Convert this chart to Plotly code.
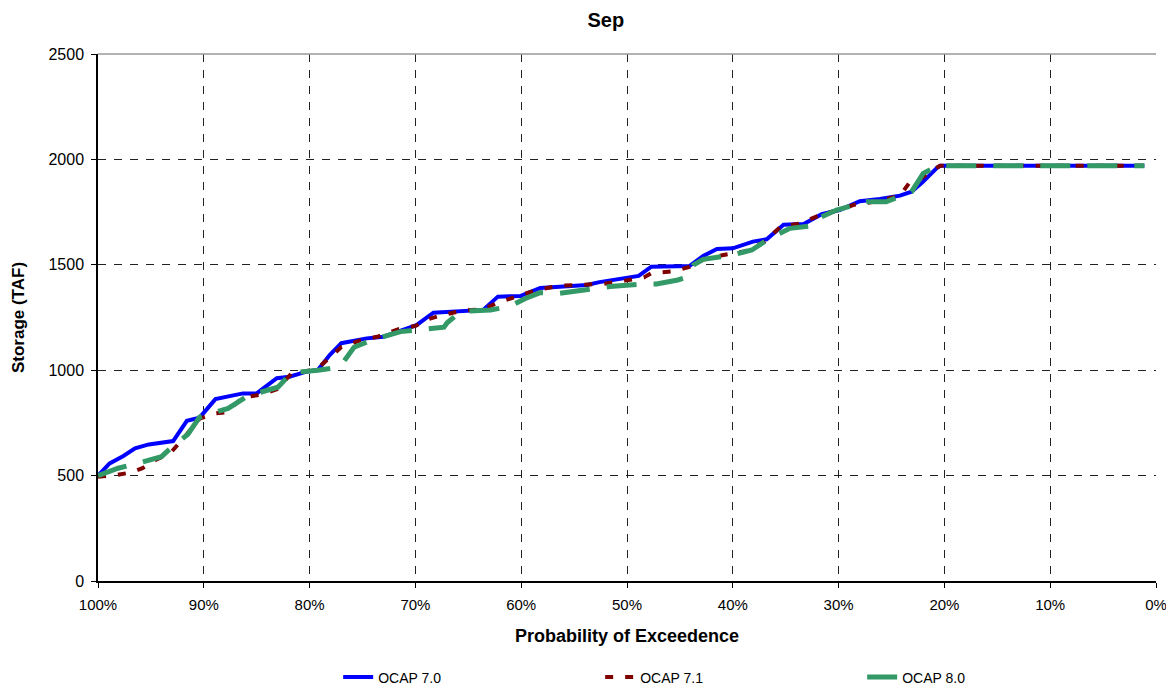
import plotly.graph_objects as go

# Probability of exceedence (%) and storage (TAF)
p_70 = [100.0, 98.9, 97.6, 96.5, 95.2, 92.9, 91.6, 90.4, 88.9, 86.3, 85.0, 83.1, 81.9, 80.3, 79.2,
        78.1, 77.0, 74.6, 73.0, 70.5, 69.9, 68.3, 65.8, 63.6, 62.2, 60.1, 58.2, 53.8, 52.6, 50.7,
        48.9, 47.7, 44.1, 42.8, 41.5, 40.0, 38.1, 36.8, 35.2, 33.3, 31.6, 29.9, 28.0, 26.1, 24.2,
        23.1, 22.1, 20.7, 20.4, 1.1]
s_70 = [500, 558, 593, 629, 648, 664, 760, 775, 863, 890, 890, 962, 969, 993, 1002,
        1072, 1128, 1151, 1159, 1207, 1214, 1273, 1282, 1286, 1349, 1352, 1390, 1404, 1418, 1431,
        1447, 1491, 1494, 1542, 1575, 1578, 1610, 1621, 1690, 1694, 1740, 1760, 1802, 1812, 1828,
        1847, 1890, 1960, 1970, 1970]

p_71 = [100.0, 98.2, 96.9, 95.8, 94.4, 93.1, 91.7, 90.4, 88.9, 87.9, 86.3, 84.5, 83.1, 81.7, 80.3,
        79.2, 78.1, 77.0, 75.3, 73.5, 71.6, 70.0, 68.9, 67.6, 65.6, 63.6, 62.2, 60.2, 58.6, 56.5,
        53.8, 52.2, 50.2, 48.4, 47.7, 45.5, 44.1, 42.8, 41.0, 38.8, 37.0, 35.5, 33.8, 31.5, 30.0,
        28.5, 26.5, 24.2, 23.3, 22.2, 21.4, 20.4, 1.1]
s_71 = [495, 503, 515, 535, 578, 610, 690, 770, 795, 800, 870, 885, 910, 985, 995,
        1010, 1060, 1110, 1140, 1160, 1195, 1210, 1240, 1260, 1282, 1290, 1320, 1355, 1380, 1400,
        1405, 1410, 1425, 1440, 1460, 1470, 1490, 1525, 1545, 1565, 1610, 1680, 1695, 1740, 1760,
        1785, 1800, 1828, 1890, 1910, 1940, 1970, 1970]

p_80 = [100.0, 98.1, 96.5, 95.2, 94.0, 92.9, 91.5, 90.4, 87.7, 85.8, 83.0, 81.7, 80.0, 79.2, 77.7,
        77.0, 75.8, 74.1, 71.4, 69.7, 67.3, 67.0, 65.7, 62.9, 61.1, 59.6, 58.2, 56.4, 53.5, 51.6,
        48.8, 47.2, 45.2, 44.4, 43.7, 42.8, 40.0, 38.2, 36.5, 34.6, 32.6, 31.6, 30.2, 27.3, 25.5,
        23.1, 22.0, 20.6, 1.1]
s_80 = [500, 535, 555, 574, 590, 640, 696, 777, 819, 879, 919, 988, 993, 1000, 1010,
        1025, 1109, 1143, 1183, 1194, 1204, 1225, 1278, 1286, 1302, 1340, 1368, 1365, 1384, 1397,
        1408, 1409, 1428, 1440, 1500, 1526, 1547, 1570, 1626, 1673, 1684, 1728, 1760, 1799, 1799,
        1847, 1934, 1970, 1970]

x_ticks = [100, 90, 80, 70, 60, 50, 40, 30, 20, 10, 0]
x_labels = ["100%", "90%", "80%", "70%", "60%", "50%", "40%", "30%", "20%", "10%", "0%"]
y_ticks = [0, 500, 1000, 1500, 2000, 2500]

FONT = "Liberation Sans, Arial, sans-serif"

fig = go.Figure()
fig.add_trace(go.Scatter(x=p_70, y=s_70, mode="lines", name="OCAP 7.0",
                         line=dict(color="#0000FF", width=4)))
fig.add_trace(go.Scatter(x=p_71, y=s_71, mode="lines", name="OCAP 7.1",
                         line=dict(color="#800000", width=4, dash="8px,12px")))
fig.add_trace(go.Scatter(x=p_80, y=s_80, mode="lines", name="OCAP 8.0",
                         line=dict(color="#339966", width=5, dash="30px,17px")))

# page body adds an 8px offset; figure sized so the plot area lands at x 98-1156, y 54-581
fig.update_layout(
    width=1166, height=682,
    margin=dict(l=90, r=18, t=46, b=109, autoexpand=False),
    paper_bgcolor="white", plot_bgcolor="white",
    font=dict(family=FONT, size=15, color="black"),
    title=dict(text="<b>Sep</b>", x=0.48, xref="paper", xanchor="center",
               y=0.982, yref="container", yanchor="middle",
               font=dict(size=20, family=FONT, color="black")),
    showlegend=True,
    legend=dict(orientation="h", x=0.227, xanchor="left", y=-0.183, yanchor="middle",
                font=dict(size=14, family=FONT), entrywidth=217, entrywidthmode="pixels",
                bgcolor="rgba(0,0,0,0)"),
)

fig.update_xaxes(
    range=[100, 0], tickvals=x_ticks, ticktext=x_labels,
    showgrid=True, gridcolor="#222222", gridwidth=1, griddash="8px,8px",
    showline=True, linecolor="black", linewidth=1.5,
    ticks="outside", ticklen=5, tickcolor="black",
    zeroline=False, mirror=False,
    tickfont=dict(size=15), ticklabelstandoff=4,
    title=dict(text="<b>Probability of Exceedence</b>", font=dict(size=18, family=FONT), standoff=18),
)
fig.update_yaxes(
    range=[0, 2500], tickvals=y_ticks,
    showgrid=True, gridcolor="#222222", gridwidth=1, griddash="8px,8px",
    showline=True, linecolor="black", linewidth=1.5,
    ticks="outside", ticklen=5, tickcolor="black",
    zeroline=False,
    tickfont=dict(size=16), ticklabelstandoff=4,
    title=dict(text="<b>Storage (TAF)</b>", font=dict(size=17, family=FONT), standoff=20),
)

# solid top border of the plot area
fig.add_shape(type="line", xref="paper", yref="paper", x0=0, x1=1, y0=1, y1=1,
              line=dict(color="#999999", width=1.5))

fig.write_html("out.html")
